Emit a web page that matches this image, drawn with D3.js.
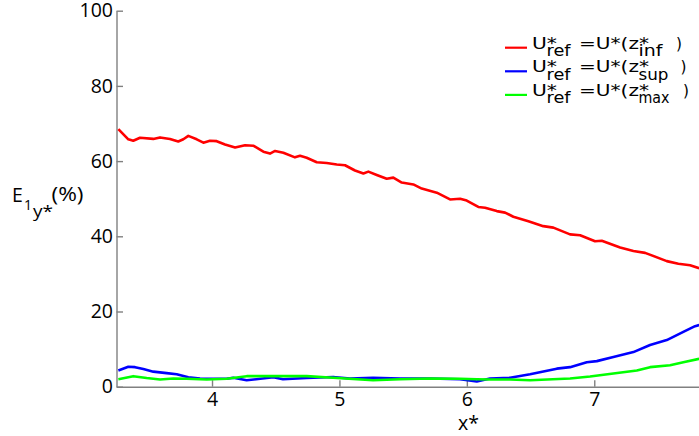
<!DOCTYPE html>
<html>
<head>
<meta charset="utf-8">
<script src="https://cdn.jsdelivr.net/npm/d3@7"></script>
<style>
  body { margin: 0; background: #fff; }
  svg { display: block; }
  .axis path, .axis line { stroke: #808080; stroke-width: 1.4; }
  .axis text { font-family: 'Open Sans', sans-serif; font-size: 19.5px; fill: #000; }
  .legend text { font-family: 'DejaVu Sans', sans-serif; font-size: 15.5px; fill: #000; }
  .title { font-family: 'Open Sans', sans-serif; fill: #000; }
</style>
</head>
<body>
<svg id="chart" width="699" height="436"></svg>
<script>
// values
var red_x = [3.265,3.343,3.382,3.435,3.539,3.592,3.670,3.735,3.775,3.814,3.880,3.932,3.984,4.037,4.102,4.181,4.259,4.324,4.403,4.455,4.495,4.560,4.651,4.691,4.743,4.822,4.900,4.979,5.044,5.122,5.188,5.227,5.293,5.371,5.423,5.489,5.580,5.646,5.764,5.868,5.947,5.999,6.090,6.143,6.235,6.300,6.365,6.483,6.600,6.679,6.810,6.889,7.006,7.059,7.203,7.307,7.399,7.569,7.660,7.752,7.823];
var red_y = [68.5,65.8,65.4,66.2,65.9,66.3,65.9,65.2,65.8,66.7,65.8,64.9,65.4,65.3,64.4,63.6,64.2,64.1,62.5,62.0,62.7,62.2,61.0,61.4,60.9,59.7,59.5,59.1,58.9,57.5,56.7,57.2,56.3,55.3,55.6,54.3,53.8,52.7,51.6,49.8,50.0,49.5,47.8,47.6,46.7,46.3,45.2,44.0,42.7,42.3,40.5,40.3,38.7,38.8,37.0,36.1,35.6,33.4,32.7,32.3,31.5];

var blue_x = [3.265,3.343,3.396,3.461,3.539,3.644,3.723,3.814,3.906,4.010,4.115,4.167,4.272,4.481,4.557,4.743,4.950,5.083,5.264,5.476,5.711,5.947,6.078,6.182,6.339,6.496,6.706,6.810,6.941,7.020,7.150,7.307,7.438,7.569,7.699,7.791,7.823];
var blue_y = [4.3,5.3,5.2,4.7,4.0,3.6,3.3,2.5,2.2,2.1,2.1,2.4,1.7,2.5,2.0,2.3,2.6,2.2,2.4,2.2,2.2,2.0,1.4,2.2,2.4,3.3,4.8,5.2,6.5,6.8,7.9,9.2,11.1,12.4,14.6,16.1,16.4];

var green_x = [3.265,3.382,3.487,3.592,3.696,3.801,3.958,4.115,4.272,4.481,4.743,4.950,5.264,5.476,5.711,5.947,6.078,6.182,6.339,6.496,6.810,6.967,7.150,7.334,7.438,7.595,7.699,7.823];
var green_y = [2.0,2.8,2.3,1.9,2.2,2.1,1.9,2.1,2.8,2.8,2.8,2.4,1.7,2.0,2.2,2.1,2.0,1.9,1.9,1.7,2.2,2.7,3.5,4.3,5.2,5.7,6.5,7.4];

var x_ticks = [4, 5, 6, 7];
var y_ticks = [0, 20, 40, 60, 80, 100];

var series_colors = ['#ff0000', '#0000ff', '#00ff00'];
var legend_subs = ['inf', 'sup', 'max'];

/**************************************************************************************/

var svg = d3.select('#chart');

var x = d3.scaleLinear().domain([3.2504, 7.822]).range([116.5, 699]);
var y = d3.scaleLinear().domain([0, 100]).range([386.7, 10.7]);

// axes, ticks point inward
var x_axis = d3.axisBottom(x).tickValues(x_ticks).tickFormat(d3.format('d'))
    .tickSizeInner(-6.5).tickSizeOuter(0).tickPadding(5);
var y_axis = d3.axisLeft(y).tickValues(y_ticks).tickFormat(d3.format('d'))
    .tickSizeInner(-6.5).tickSizeOuter(0).tickPadding(3.5);

svg.append('g').attr('class', 'axis')
    .attr('transform', 'translate(0,' + y(0) + ')')
    .call(x_axis);

svg.append('g').attr('class', 'axis')
    .attr('transform', 'translate(' + x.range()[0] + ',0)')
    .call(y_axis);

// curves
var series = [
    { xs: red_x, ys: red_y },
    { xs: blue_x, ys: blue_y },
    { xs: green_x, ys: green_y }
];

var line = d3.line().x(function(d){ return x(d[0]); }).y(function(d){ return y(d[1]); });

series.forEach(function(s, i){
    var pts = s.xs.map(function(v, j){ return [v, s.ys[j]]; });
    svg.append('path')
        .attr('d', line(pts))
        .attr('fill', 'none')
        .attr('stroke', series_colors[i])
        .attr('stroke-width', 2.6)
        .attr('stroke-linejoin', 'round');
});

// axis titles
function put_text(parent, txt, px, py, size, len){
    var t = parent.append('text').attr('class', 'title')
        .attr('x', px).attr('y', py).attr('font-size', size).text(txt);
    if(len){ t.attr('textLength', len).attr('lengthAdjust', 'spacingAndGlyphs'); }
    return t;
}

put_text(svg, 'E', 12, 201.5, 19.5);
put_text(svg, '1', 24, 210, 14);
put_text(svg, 'y*', 33, 217, 15.5, 20);
put_text(svg, '(%)', 51.5, 201, 19.5, 32);

put_text(svg, 'x*', 458, 430, 19.5);

// legend (glyphs in the reference are wide, so segments are fitted to length)
var legend = svg.append('g').attr('class', 'legend');
var sub_len = [24, 30, 31];
var close_x = [676, 680.5, 683];

legend_subs.forEach(function(sub, i){
    var ly = 48.2 + i*23.6;
    legend.append('line')
        .attr('x1', 505).attr('x2', 527)
        .attr('y1', ly - 0.5).attr('y2', ly - 0.5)
        .attr('stroke', series_colors[i])
        .attr('stroke-width', 2.2);

    function seg(txt, px, py, len){
        legend.append('text').attr('x', px).attr('y', py)
            .attr('textLength', len).attr('lengthAdjust', 'spacingAndGlyphs')
            .text(txt);
    }
    seg('U*', 532, ly + 0.5, 25);
    seg('ref', 546.5, ly + 8, 24);
    seg('=U*(z*', 579, ly + 0.5, 70);
    seg(sub, 638.5, ly + 8, sub_len[i]);
    seg(')', close_x[i], ly + 0.5, 6);
});
</script>
</body>
</html>
